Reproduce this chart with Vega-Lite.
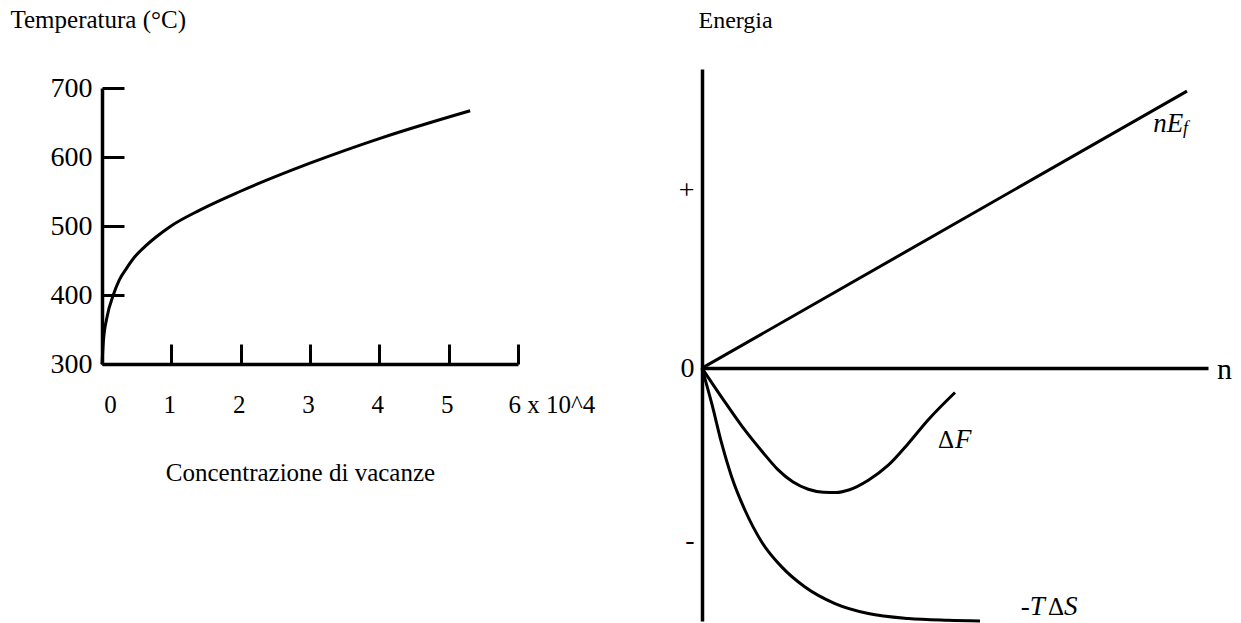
{
  "$schema": "https://vega.github.io/schema/vega-lite/v6.json",
  "width": 1241,
  "height": 623,
  "autosize": "none",
  "padding": 0,
  "background": "white",
  "config": {
    "view": {"stroke": null},
    "font": "Liberation Serif",
    "axis": {
      "grid": false,
      "domainColor": "black",
      "tickColor": "black",
      "labelColor": "black",
      "titleColor": "black",
      "labelFont": "Liberation Serif",
      "titleFont": "Liberation Serif",
      "titleFontWeight": "normal",
      "labelFlush": false,
      "labelOverlap": false,
      "labelBound": false
    }
  },
  "resolve": {"scale": {"x": "independent", "y": "independent"}},
  "layer": [
    {
      "data": {
        "values": [
          {"conc": 0, "temp": 300},
          {"conc": 0.02, "temp": 333},
          {"conc": 0.068, "temp": 366},
          {"conc": 0.163, "temp": 400},
          {"conc": 0.25, "temp": 422},
          {"conc": 0.356, "temp": 439},
          {"conc": 0.47, "temp": 455},
          {"conc": 0.596, "temp": 468},
          {"conc": 0.78, "temp": 484},
          {"conc": 0.98, "temp": 499},
          {"conc": 1.41, "temp": 523},
          {"conc": 1.99, "temp": 550},
          {"conc": 3.0, "temp": 591},
          {"conc": 4.01, "temp": 627},
          {"conc": 5.31, "temp": 667}
        ]
      },
      "mark": {"type": "line", "interpolate": "monotone", "color": "black", "strokeWidth": 3},
      "encoding": {
        "x": {
          "field": "conc",
          "type": "quantitative",
          "scale": {"domain": [0, 6], "range": [102, 518], "nice": false, "zero": false},
          "axis": {
            "orient": "bottom",
            "offset": -259,
            "values": [0, 1, 2, 3, 4, 5, 6],
            "tickSize": -20,
            "tickWidth": 3,
            "domainWidth": 3.5,
            "labelFontSize": 25,
            "labelPadding": 48,
            "labelExpr": "datum.value == 6 ? '6 x 10^4' : datum.label",
            "labelAlign": {"condition": {"test": "datum.value == 6", "value": "left"}, "value": "center"},
            "labelOffset": {"condition": [{"test": "datum.value == 0", "value": 8}, {"test": "datum.value == 6", "value": -10}], "value": -2},
            "title": "Concentrazione di vacanze",
            "titleFontSize": 25,
            "titleX": 300,
            "titleY": 116,
            "titleAlign": "center",
            "titleBaseline": "alphabetic"
          }
        },
        "y": {
          "field": "temp",
          "type": "quantitative",
          "scale": {"domain": [300, 700], "range": [364, 88], "nice": false, "zero": false},
          "axis": {
            "orient": "left",
            "offset": -102,
            "values": [300, 400, 500, 600, 700],
            "tickSize": -22,
            "tickWidth": 3,
            "domainWidth": 3.5,
            "labelFontSize": 28,
            "labelPadding": 32,
            "title": "Temperatura (°C)",
            "titleAngle": 0,
            "titleFontSize": 25,
            "titleX": -92,
            "titleY": 27,
            "titleAlign": "left",
            "titleBaseline": "alphabetic"
          }
        }
      }
    },
    {
      "encoding": {
        "x": {
          "field": "n",
          "type": "quantitative",
          "scale": {"domain": [0, 10], "range": [702, 1208], "nice": false, "zero": false},
          "axis": {
            "orient": "bottom",
            "offset": -255,
            "ticks": false,
            "labels": false,
            "domainWidth": 3.5,
            "title": "n",
            "titleFontSize": 30,
            "titleX": 1224,
            "titleY": 10,
            "titleAlign": "center",
            "titleBaseline": "alphabetic"
          }
        },
        "y": {
          "field": "e",
          "type": "quantitative",
          "scale": {"domain": [-1.42, 1.68], "range": [621, 69], "nice": false, "zero": false},
          "axis": {
            "orient": "left",
            "offset": -702,
            "values": [1, 0, -0.97],
            "ticks": false,
            "domainWidth": 3.5,
            "labelFontSize": 28,
            "labelPadding": 8,
            "labelExpr": "datum.value > 0.5 ? '+' : (datum.value < -0.5 ? '-' : '0')",
            "title": "Energia",
            "titleAngle": 0,
            "titleFontSize": 24,
            "titleX": -4,
            "titleY": 27,
            "titleAlign": "left",
            "titleBaseline": "alphabetic"
          }
        }
      },
      "layer": [
        {
          "data": {
            "values": [
              {"series": "nEf", "n": 0, "e": 0},
              {"series": "nEf", "n": 9.585, "e": 1.556},
              {"series": "dF", "n": 0, "e": 0},
              {"series": "dF", "n": 0.4, "e": -0.168},
              {"series": "dF", "n": 0.8, "e": -0.33},
              {"series": "dF", "n": 1.2, "e": -0.472},
              {"series": "dF", "n": 1.5, "e": -0.57},
              {"series": "dF", "n": 1.8, "e": -0.64},
              {"series": "dF", "n": 2.1, "e": -0.68},
              {"series": "dF", "n": 2.4, "e": -0.697},
              {"series": "dF", "n": 2.65, "e": -0.698},
              {"series": "dF", "n": 2.9, "e": -0.684},
              {"series": "dF", "n": 3.287, "e": -0.629},
              {"series": "dF", "n": 3.682, "e": -0.545},
              {"series": "dF", "n": 4.077, "e": -0.423},
              {"series": "dF", "n": 4.472, "e": -0.29},
              {"series": "dF", "n": 5.0, "e": -0.137},
              {"series": "TdS", "n": 0, "e": 0},
              {"series": "TdS", "n": 0.192, "e": -0.198},
              {"series": "TdS", "n": 0.389, "e": -0.423},
              {"series": "TdS", "n": 0.587, "e": -0.611},
              {"series": "TdS", "n": 0.85, "e": -0.798},
              {"series": "TdS", "n": 1.18, "e": -0.976},
              {"series": "TdS", "n": 1.575, "e": -1.116},
              {"series": "TdS", "n": 2.036, "e": -1.229},
              {"series": "TdS", "n": 2.628, "e": -1.322},
              {"series": "TdS", "n": 3.287, "e": -1.378},
              {"series": "TdS", "n": 4.077, "e": -1.406},
              {"series": "TdS", "n": 4.867, "e": -1.416},
              {"series": "TdS", "n": 5.494, "e": -1.42}
            ]
          },
          "mark": {"type": "line", "interpolate": "monotone", "color": "black", "strokeWidth": 3},
          "encoding": {"detail": {"field": "series"}}
        },
        {
          "data": {
            "values": [
              {"txt": "nE", "n": 8.919, "e": 1.3275},
              {"txt": "F", "n": 5.0, "e": -0.451},
              {"txt": "-T", "n": 6.298, "e": -1.388},
              {"txt": "S", "n": 7.154, "e": -1.388}
            ]
          },
          "mark": {"type": "text", "align": "left", "baseline": "alphabetic", "fontStyle": "italic", "fontSize": 27, "color": "black", "font": "Liberation Serif"},
          "encoding": {"text": {"field": "txt"}}
        },
        {
          "data": {
            "values": [
              {"txt": "f", "n": 9.506, "e": 1.315}
            ]
          },
          "mark": {"type": "text", "align": "left", "baseline": "alphabetic", "fontStyle": "italic", "fontSize": 18, "color": "black", "font": "Liberation Serif"},
          "encoding": {"text": {"field": "txt"}}
        },
        {
          "data": {
            "values": [
              {"txt": "Δ", "n": 4.664, "e": -0.451},
              {"txt": "Δ", "n": 6.838, "e": -1.388}
            ]
          },
          "mark": {"type": "text", "align": "left", "baseline": "alphabetic", "fontSize": 25, "color": "black", "font": "Liberation Serif"},
          "encoding": {"text": {"field": "txt"}}
        }
      ]
    }
  ]
}
